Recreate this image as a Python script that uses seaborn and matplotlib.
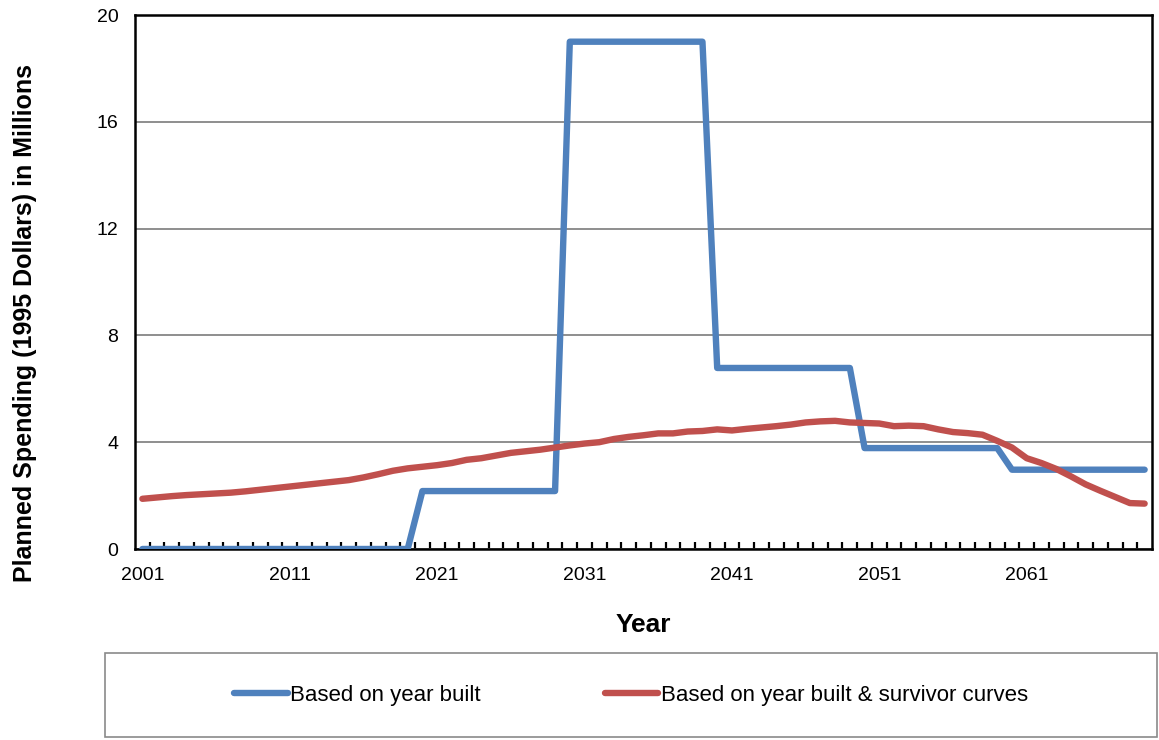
import numpy as np
import pandas as pd
import matplotlib
matplotlib.use('agg')
import matplotlib.pyplot as plt
import seaborn as sns
from matplotlib.patches import Rectangle
from matplotlib.ticker import FixedLocator

years = list(range(2001, 2070))

# planned spending, millions of 1995 dollars
year_built = ([0.0] * 19 + [2.17] * 10 + [19.0] * 10 + [6.78] * 10
              + [3.78] * 10 + [2.97] * 10)
survivor = [1.88, 1.93, 1.98, 2.02, 2.05, 2.08, 2.11, 2.16, 2.22, 2.28,
            2.34, 2.40, 2.46, 2.52, 2.58, 2.68, 2.80, 2.93, 3.02, 3.08,
            3.14, 3.22, 3.34, 3.40, 3.50, 3.60, 3.66, 3.72, 3.80, 3.88,
            3.95, 4.00, 4.12, 4.20, 4.26, 4.33, 4.33, 4.40, 4.42, 4.48,
            4.44, 4.50, 4.55, 4.60, 4.66, 4.74, 4.78, 4.80, 4.74, 4.72,
            4.70, 4.60, 4.62, 4.60, 4.48, 4.38, 4.34, 4.28, 4.05, 3.80,
            3.40, 3.22, 3.00, 2.72, 2.42, 2.18, 1.95, 1.72, 1.70]

series_names = ["Based on year built", "Based on year built & survivor curves"]
y_ticks = [0, 4, 8, 12, 16, 20]
x_labels = [2001, 2011, 2021, 2031, 2041, 2051, 2061]

df = pd.DataFrame({
    "Year": years * 2,
    "Spending": year_built + survivor,
    "Series": [series_names[0]] * len(years) + [series_names[1]] * len(years),
})

sns.set_theme(style="white")
plt.rcParams["font.family"] = ["Liberation Sans", "DejaVu Sans"]
plt.rcParams["text.color"] = "black"

fig = plt.figure(figsize=(11.59, 7.40), dpi=100)
ax = fig.add_axes([135 / 1159, 1 - 549 / 740, (1152 - 135) / 1159, (549 - 15) / 740])

sns.lineplot(data=df, x="Year", y="Spending", hue="Series",
             palette=["#4F81BD", "#C0504D"], linewidth=4.6, ax=ax,
             legend=False, solid_joinstyle="round", solid_capstyle="round",
             zorder=3)

ax.set_xlim(2000.5, 2069.5)
ax.set_ylim(0, 20)
ax.set_yticks(y_ticks)
ax.yaxis.grid(True, color="#868686", linewidth=1.3)
ax.set_axisbelow(True)

ax.set_xticks(x_labels)
ax.set_xticklabels([str(v) for v in x_labels])
ax.xaxis.set_minor_locator(FixedLocator(np.arange(2001.5, 2069.5, 1.0)))
ax.tick_params(axis="x", which="major", length=0, pad=13, labelsize=14, colors="black")
ax.tick_params(axis="x", which="minor", direction="in", length=5, width=1.6,
               color="black", bottom=True)
ax.tick_params(axis="y", length=0, pad=12, labelsize=14, colors="black")

for s in ax.spines.values():
    s.set_color("black")
    s.set_linewidth(1.8)
    s.set_visible(True)

ax.set_xlabel("Year", fontsize=19, fontweight="bold", color="black")
ax.xaxis.set_label_coords(0.5, -(613 - 549) / 534, transform=ax.transAxes)
ax.set_ylabel("Planned Spending (1995 Dollars) in Millions", fontsize=18,
              fontweight="bold", color="black")
ax.yaxis.set_label_coords(-(135 - 37) / 1017, (549 - 323) / 534, transform=ax.transAxes)

# legend box at the bottom
fig.patches.append(Rectangle((105 / 1159, 1 - 737 / 740), 1052 / 1159, 84 / 740,
                             transform=fig.transFigure, fill=False,
                             edgecolor="#8a8a8a", linewidth=1.2))
handles = [plt.Line2D([], [], color="#4F81BD", linewidth=4.6, solid_capstyle="round"),
           plt.Line2D([], [], color="#C0504D", linewidth=4.6, solid_capstyle="round")]
fig.legend(handles, series_names, loc="center", bbox_to_anchor=(631 / 1159, 1 - 695 / 740),
           ncol=2, frameon=False, fontsize=16, handlelength=2.4, handletextpad=0.1,
           columnspacing=5.6, labelcolor="black")

fig.savefig("out.png", dpi=100)
plt.close(fig)
